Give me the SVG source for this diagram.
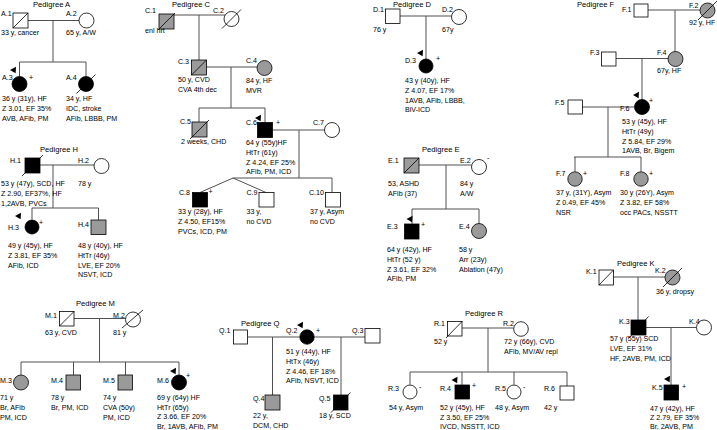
<svg xmlns="http://www.w3.org/2000/svg" xmlns:xlink="http://www.w3.org/1999/xlink" width="717" height="430" viewBox="0 0 717 430">
<defs>
<style>
text{font-family:"Liberation Sans",Arial,sans-serif;font-size:7.1px;fill:#000}
.t{font-size:7.6px}
.w{fill:#fff;stroke:#000;stroke-width:0.8}
.g{fill:#9a9a9a;stroke:#000;stroke-width:0.8}
.b{fill:#000;stroke:#000;stroke-width:0.8}
.sl{stroke:#000;stroke-width:0.8;fill:none}
.ln{stroke:#505050;stroke-width:1;fill:none}
</style>
<path id="arr" d="M0,0 L6,-3.2 L5.6,3.2 Z" fill="#000"/>
</defs>
<rect width="717" height="430" fill="#fff"/>

<g id="connectors">
<!-- A -->
<path class="ln" d="M28,20.5H79M53,20.5V62M19.5,62H86M19.5,62V76.5M86,62V76.5"/>
<!-- C -->
<path class="ln" d="M174,15H225M199,15V60M206.5,67H257M231,67V108M199,108H265M199,108V122M265,108V122.5M272.5,130H324.5M299,130V178M233,178H332M233,178L200,192.5M233,178L266,192.5M332,178V192.5"/>
<!-- D -->
<path class="ln" d="M400,16H451.5M426,16V59"/>
<!-- F -->
<path class="ln" d="M648,10H700M675,10V52M616,58.5H668M642,58.5V100M582,107H634.5M608,107V157M574,157H641M575,157V171.5M641,157V171.5"/>
<!-- H -->
<path class="ln" d="M40,165H94M53,165V208M32,208H98.5M32,208V219.5M98.5,208V220"/>
<!-- E -->
<path class="ln" d="M419,165H471.5M446,165V209M412,209H479M412,209V224M479,209V223.5"/>
<!-- K -->
<path class="ln" d="M614,277H665M638,277V320M646,327.5H696.5M671,327.5V385"/>
<!-- M -->
<path class="ln" d="M74,318.5H125.5M99.5,318.5V362M21,362H179M21,362V375M73.5,362V375M125.5,362V375M179,362V375"/>
<!-- Q -->
<path class="ln" d="M248,337H299.5M314.5,337H365M272.5,337V395M341,337V395"/>
<!-- R -->
<path class="ln" d="M462,328H513.5M488,328V372M410,372H567M410,372V384.5M462,372V385M514,372V384.5M567,372V386"/>
</g>

<g id="titles">
<text class="t" x="33" y="6.5">Pedigree A</text>
<text class="t" x="172" y="6.5">Pedigree C</text>
<text class="t" x="393" y="6.5">Pedigree D</text>
<text class="t" x="577" y="6.5">Pedigree F</text>
<text class="t" x="40" y="152">Pedigree H</text>
<text class="t" x="422" y="152">Pedigree E</text>
<text class="t" x="617" y="266">Pedigree K</text>
<text class="t" x="76" y="306">Pedigree M</text>
<text class="t" x="241" y="325.5">Pedigree Q</text>
<text class="t" x="465" y="316">Pedigree R</text>
</g>

<!-- Pedigree A -->
<g id="A1"><rect class="w" x="13" y="13" width="15" height="15"/><path class="sl" d="M13,28L28,13"/><text x="1" y="16">A.1</text><text x="1" y="35">33 y, cancer</text></g>
<g id="A2"><circle class="w" cx="86.5" cy="20.5" r="7.5"/><text x="66" y="16">A.2</text><text x="66" y="35">65 y, A/W</text></g>
<g id="A3"><circle class="b" cx="19.5" cy="84" r="7.5"/><use href="#arr" x="10" y="70"/><text x="2" y="80">A.3</text><text x="29" y="80">+</text><text x="2" y="101">36 y (31y), HF<tspan x="2" dy="9.8">Z 3.01, EF 35%</tspan><tspan x="2" dy="9.8">AVB, AFib, PM</tspan></text></g>
<g id="A4"><circle class="b" cx="86" cy="84" r="7.5"/><path class="sl" d="M76.5,93.5L95.5,74.5"/><text x="66" y="80">A.4</text><text x="66" y="101">34 y, HF<tspan x="66" dy="9.8">IDC, stroke</tspan><tspan x="66" dy="9.8">AFib, LBBB, PM</tspan></text></g>

<!-- Pedigree C -->
<g id="C1"><rect class="g" x="159" y="14" width="15" height="15"/><path class="sl" d="M158,30L175,13"/><text x="145" y="13">C.1</text><text x="145" y="33">enl hrt</text></g>
<g id="C2"><circle class="w" cx="231.5" cy="19" r="7.5"/><path class="sl" d="M222,28.5L241,9.5"/><text x="213" y="13">C.2</text></g>
<g id="C3"><rect class="g" x="191.5" y="60" width="15" height="15"/><path class="sl" d="M191.5,75L206.5,60"/><text x="178" y="64">C.3</text><text x="178" y="82">50 y, CVD<tspan x="178" dy="9.8">CVA 4th dec</tspan></text></g>
<g id="C4"><circle class="g" cx="264.5" cy="68" r="7.5"/><text x="246" y="63">C.4</text><text x="246" y="83">84 y, HF<tspan x="246" dy="9.8">MVR</tspan></text></g>
<g id="C5"><rect class="g" x="192" y="122" width="15" height="15"/><path class="sl" d="M190,139L209,120"/><text x="180" y="124">C.5</text><text x="181" y="144">2 weeks, CHD</text></g>
<g id="C6"><rect class="b" x="257.5" y="122.5" width="15" height="15"/><use href="#arr" x="255" y="118"/><text x="246" y="125">C.6</text><text x="276" y="125">+</text><text x="246" y="145">64 y (55y)HF<tspan x="246" dy="9.8">HtTr (61y)</tspan><tspan x="246" dy="9.8">Z 4.24, EF 25%</tspan><tspan x="246" dy="9.8">AFib, PM, ICD</tspan></text></g>
<g id="C7"><circle class="w" cx="332" cy="130" r="7.5"/><text x="313" y="125">C.7</text></g>
<g id="C8"><rect class="b" x="192.5" y="192.5" width="15" height="14.5"/><text x="179" y="195">C.8</text><text x="208.5" y="194">+</text><text x="178" y="214">33 y (28y), HF<tspan x="178" dy="9.8">Z 4.50, EF15%</tspan><tspan x="178" dy="9.8">PVCs, ICD, PM</tspan></text></g>
<g id="C9"><rect class="w" x="259" y="192.5" width="15" height="14.5"/><text x="246.5" y="195">C.9</text><text x="246.5" y="214">33 y,<tspan x="246.5" dy="9.8">no CVD</tspan></text></g>
<g id="C10"><rect class="w" x="325.5" y="192.5" width="15" height="14.5"/><text x="309" y="195">C.10</text><text x="310" y="214">37 y, Asym<tspan x="310" dy="9.8">no CVD</tspan></text></g>

<!-- Pedigree D -->
<g id="D1"><rect class="w" x="385.5" y="9" width="14.5" height="14.5"/><text x="373" y="12">D.1</text><text x="373" y="32">76 y</text></g>
<g id="D2"><circle class="w" cx="459" cy="17" r="7.5"/><text x="442" y="12">D.2</text><text x="442" y="32">67y</text></g>
<g id="D3"><circle class="b" cx="426" cy="66" r="7"/><use href="#arr" x="417" y="53"/><text x="405" y="63">D.3</text><text x="436" y="61">+</text><text x="405" y="83">43 y (40y), HF<tspan x="405" dy="9.8">Z 4.07, EF 17%</tspan><tspan x="405" dy="9.8">1AVB, AFib, LBBB,</tspan><tspan x="405" dy="9.8">BiV-ICD</tspan></text></g>

<!-- Pedigree F -->
<g id="F1"><rect class="w" x="634" y="4" width="14" height="13"/><text x="622" y="12">F.1</text></g>
<g id="F2"><circle class="g" cx="707.5" cy="10.5" r="7.5"/><path class="sl" d="M698,20L717,1"/><text x="689" y="8">F.2</text><text x="689" y="25">92 y, HF</text></g>
<g id="F3"><rect class="w" x="601.5" y="52" width="14.5" height="14"/><text x="590" y="55">F.3</text></g>
<g id="F4"><circle class="g" cx="675.5" cy="59" r="7.5"/><text x="657" y="55">F.4</text><text x="657" y="73">67y, HF</text></g>
<g id="F5"><rect class="w" x="568" y="100" width="14.5" height="14"/><text x="555" y="105">F.5</text></g>
<g id="F6"><circle class="b" cx="642" cy="107" r="7.5"/><use href="#arr" x="633" y="95"/><text x="620" y="111">F.6</text><text x="649" y="103">+</text><text x="622" y="124">53 y (45y), HF<tspan x="622" dy="9.8">HtTr (49y)</tspan><tspan x="622" dy="9.8">Z 5.84, EF 29%</tspan><tspan x="622" dy="9.8">1AVB, Br, Bigem</tspan></text></g>
<g id="F7"><circle class="g" cx="575" cy="179" r="7.2"/><text x="556" y="176">F.7</text><text x="583" y="176">+</text><text x="556" y="195">37 y, (31Y), Asym<tspan x="556" dy="9.8">Z 0.49, EF 45%</tspan><tspan x="556" dy="9.8">NSR</tspan></text></g>
<g id="F8"><circle class="g" cx="641" cy="179" r="7.2"/><text x="620" y="176">F.8</text><text x="649" y="176">+</text><text x="620" y="195">30 y (26Y), Asym<tspan x="620" dy="9.8">Z 3.82, EF 58%</tspan><tspan x="620" dy="9.8">occ PACs, NSSTT</tspan></text></g>

<!-- Pedigree H -->
<g id="H1"><rect class="b" x="25" y="158" width="15" height="15"/><path class="sl" d="M22,176L43,155"/><text x="10" y="163">H.1</text><text x="1" y="186">53 y (47y), SCD, HF<tspan x="1" dy="9.8">Z 2.90, EF37%, HF</tspan><tspan x="1" dy="9.8">1,2AVB, PVCs</tspan></text></g>
<g id="H2"><circle class="w" cx="101.5" cy="166" r="7.5"/><text x="78" y="163">H.2</text><text x="78" y="186">78 y</text></g>
<g id="H3"><circle class="b" cx="32" cy="227" r="7"/><use href="#arr" x="15" y="216"/><text x="8" y="230">H.3</text><text x="39" y="225">+</text><text x="8" y="248">49 y (45y), HF<tspan x="8" dy="9.8">Z 3.81, EF 35%</tspan><tspan x="8" dy="9.8">AFib, ICD</tspan></text></g>
<g id="H4"><rect class="g" x="91" y="220" width="15" height="14.5"/><text x="78" y="227">H.4</text><text x="78" y="248">48 y (40y), HF<tspan x="78" dy="9.8">HtTr (46y)</tspan><tspan x="78" dy="9.8">LVE, EF 20%</tspan><tspan x="78" dy="9.8">NSVT, ICD</tspan></text></g>

<!-- Pedigree E -->
<g id="E1"><rect class="g" x="404" y="158" width="15" height="15"/><path class="sl" d="M404,173L419,158"/><text x="388" y="163">E.1</text><text x="388" y="186">53, ASHD<tspan x="388" dy="9.8">AFib (37)</tspan></text></g>
<g id="E2"><circle class="w" cx="479" cy="167" r="7.5"/><text x="460" y="163">E.2</text><text x="487" y="160">-</text><text x="460" y="186">84 y<tspan x="460" dy="9.8">A/W</tspan></text></g>
<g id="E3"><rect class="b" x="404.5" y="224" width="14.5" height="15"/><use href="#arr" x="406.5" y="219"/><text x="387" y="229">E.3</text><text x="421" y="227">+</text><text x="387" y="252">64 y (42y), HF<tspan x="387" dy="9.8">HtTr (52 y)</tspan><tspan x="387" dy="9.8">Z 3.61, EF 32%</tspan><tspan x="387" dy="9.8">AFib, PM</tspan></text></g>
<g id="E4"><circle class="g" cx="479" cy="231" r="7.5"/><text x="459" y="229">E.4</text><text x="459" y="252">58 y<tspan x="459" dy="9.8">Arr (23y)</tspan><tspan x="459" dy="9.8">Ablation (47y)</tspan></text></g>

<!-- Pedigree K -->
<g id="K1"><rect class="w" x="599" y="270" width="14.5" height="15"/><path class="sl" d="M599,285L613.5,270"/><text x="586" y="274">K.1</text></g>
<g id="K2"><circle class="g" cx="672.5" cy="277.5" r="7.5"/><path class="sl" d="M663,287L682,268"/><text x="655" y="273">K.2</text><text x="656" y="294">36 y, dropsy</text></g>
<g id="K3"><rect class="b" x="631" y="320" width="15" height="15"/><path class="sl" d="M628.5,338.5L648.5,316.5"/><text x="619" y="324">K.3</text><text x="610" y="341">57 y (55y) SCD<tspan x="610" dy="9.8">LVE, EF 31%</tspan><tspan x="610" dy="9.8">HF, 2AVB, PM, ICD</tspan></text></g>
<g id="K4"><circle class="w" cx="704" cy="327.5" r="7.5"/><text x="689" y="324">K.4</text></g>
<g id="K5"><rect class="b" x="664" y="385" width="14.5" height="15"/><use href="#arr" x="664" y="379"/><text x="652" y="390">K.5</text><text x="682" y="389">+</text><text x="650" y="411">47 y (42y), HF<tspan x="650" dy="9">Z 2.79, EF 35%</tspan><tspan x="650" dy="9">Br, 2AVB, PM</tspan></text></g>

<!-- Pedigree M -->
<g id="M1"><rect class="w" x="59.5" y="311.5" width="14.5" height="14.5"/><path class="sl" d="M59.5,326L74,311.5"/><text x="45" y="318">M.1</text><text x="45" y="335">63 y, CVD</text></g>
<g id="M2"><circle class="w" cx="133" cy="319.5" r="7.5"/><path class="sl" d="M122,328L143,310"/><text x="113" y="318">M.2</text><text x="113" y="335">81 y</text></g>
<g id="M3"><circle class="g" cx="21" cy="382.5" r="7.5"/><text x="0" y="383">M.3</text><text x="0" y="400">71 y<tspan x="0" dy="9.8">Br, AFib</tspan><tspan x="0" dy="9.8">PM, ICD</tspan></text></g>
<g id="M4"><rect class="g" x="66" y="375" width="14.5" height="15"/><text x="51" y="383">M.4</text><text x="51" y="400">78 y<tspan x="51" dy="9.8">Br, PM, ICD</tspan></text></g>
<g id="M5"><rect class="g" x="118" y="375" width="14.5" height="15"/><text x="103" y="383">M.5</text><text x="103" y="400">74 y<tspan x="103" dy="9.8">CVA (50y)</tspan><tspan x="103" dy="9.8">PM, ICD</tspan></text></g>
<g id="M6"><circle class="b" cx="179" cy="382.5" r="7.5"/><use href="#arr" x="170" y="371"/><text x="157" y="383">M.6</text><text x="186" y="378">+</text><text x="157" y="400">69 y (64y) HF<tspan x="157" dy="9.5">HtTr (65y)</tspan><tspan x="157" dy="9.5">Z 3.66, EF 20%</tspan><tspan x="157" dy="9.5">Br, 1AVB, AFib, PM</tspan></text></g>

<!-- Pedigree Q -->
<g id="Q1"><rect class="w" x="233.5" y="330" width="14" height="14"/><text x="219" y="333">Q.1</text></g>
<g id="Q2"><circle class="b" cx="307" cy="337" r="7.2"/><use href="#arr" x="297" y="325"/><text x="286" y="333">Q.2</text><text x="316" y="333">+</text><text x="286" y="354">51 y (44y), HF<tspan x="286" dy="9.8">HtTx (46y)</tspan><tspan x="286" dy="9.8">Z 4.46, EF 18%</tspan><tspan x="286" dy="9.8">AFib, NSVT, ICD</tspan></text></g>
<g id="Q3"><rect class="w" x="365" y="328.5" width="15" height="14.5"/><text x="352" y="333">Q.3</text></g>
<g id="Q4"><rect class="g" x="265" y="395" width="15" height="15"/><text x="253" y="401">Q.4</text><text x="253" y="418">22 y,<tspan x="253" dy="9.8">DCM, CHD</tspan></text></g>
<g id="Q5"><rect class="b" x="333.5" y="395" width="14.5" height="15"/><path class="sl" d="M331,412.5L350.5,392.5"/><text x="319" y="401">Q.5</text><text x="319" y="418">18 y, SCD</text></g>

<!-- Pedigree R -->
<g id="R1"><rect class="w" x="447.5" y="321.5" width="14.5" height="14.5"/><path class="sl" d="M446,338L462,321.5"/><text x="434" y="326">R.1</text><text x="434" y="344">52 y</text></g>
<g id="R2"><circle class="w" cx="521" cy="329" r="7.3"/><text x="503" y="326">R.2</text><text x="504" y="344">72 y (66y), CVD<tspan x="504" dy="9.8">AFib, MV/AV repl</tspan></text></g>
<g id="R3"><circle class="w" cx="410" cy="392" r="7"/><text x="388" y="391">R.3</text><text x="419" y="389">-</text><text x="389" y="410">54 y, Asym</text></g>
<g id="R4"><rect class="b" x="455" y="385" width="14.5" height="14"/><use href="#arr" x="451.5" y="380"/><text x="440" y="391">R.4</text><text x="472" y="388">+</text><text x="440" y="410">52 y (45y), HF<tspan x="440" dy="9.5">Z 3.50, EF 25%</tspan><tspan x="440" dy="9.5">IVCD, NSSTT, ICD</tspan></text></g>
<g id="R5"><circle class="w" cx="514" cy="392" r="7"/><text x="495" y="391">R.5</text><text x="523" y="389">-</text><text x="495" y="410">48 y, Asym</text></g>
<g id="R6"><rect class="w" x="560" y="386" width="14" height="14"/><text x="544" y="391">R.6</text><text x="544" y="410">42 y</text></g>
</svg>
